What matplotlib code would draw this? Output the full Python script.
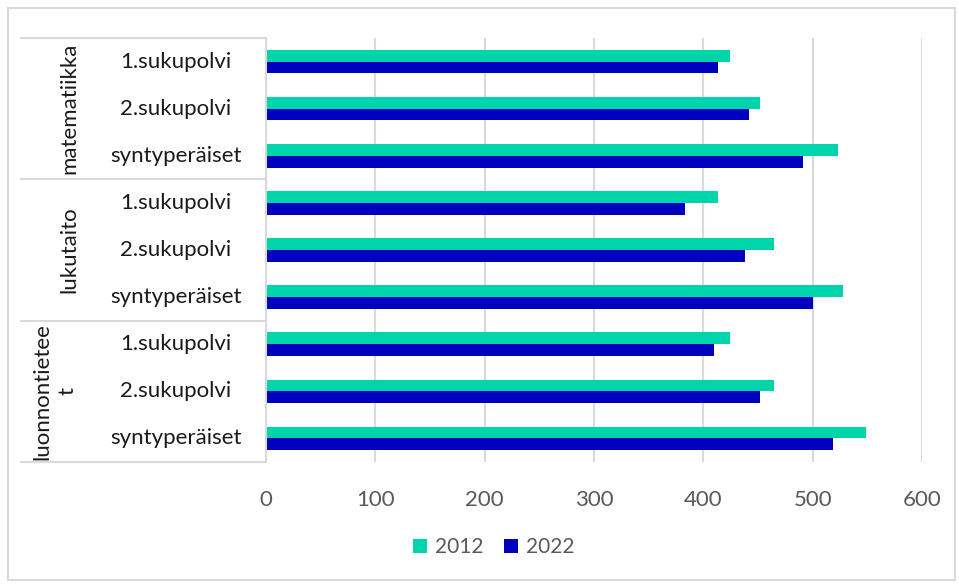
import matplotlib
matplotlib.use('Agg')
import matplotlib.pyplot as plt
from matplotlib.lines import Line2D
from matplotlib.patches import Rectangle
import numpy as np

# --- data ---
groups = ['matematiikka', 'lukutaito', 'luonnontietee\nt']
subgroups = ['1.sukupolvi', '2.sukupolvi', 'syntyperäiset']
series = ['2012', '2022']
v2012 = [424, 452, 523, 413, 465, 528, 424, 465, 549]
v2022 = [413, 442, 491, 383, 438, 500, 410, 452, 519]
xticks = [0, 100, 200, 300, 400, 500, 600]

# --- style ---
C2012 = '#00D4AA'
C2022 = '#0000BF'
GRID = '#D9D9D9'
TXT = '#595959'
FONT = ['Lato', 'DejaVu Sans']
plt.rcParams['font.family'] = FONT

W, H = 959, 584
fig = plt.figure(figsize=(W / 100, H / 100), dpi=100)

def fx(px):
    return px / W

def fy(py):
    return 1 - py / H

# outer chart border
fig.patches.append(Rectangle((fx(8), fy(580)), fx(947), 572 / H, transform=fig.transFigure,
                             fill=False, edgecolor=GRID, linewidth=1.5))

left, right, top, bottom = 266, 922, 38, 462
ax = fig.add_axes([fx(left), fy(bottom), fx(right - left), (bottom - top) / H])

n = len(v2012)
pos = np.arange(n)
h = 0.25
ax.barh(pos - h / 2, v2012, height=h, color=C2012, label=series[0], zorder=3)
ax.barh(pos + h / 2, v2022, height=h, color=C2022, label=series[1], zorder=3)

ax.set_xlim(0, 600)
ax.set_ylim(n - 0.5, -0.5)
ax.set_xticks(xticks)
ax.set_xticklabels([str(t) for t in xticks], fontsize=16, color=TXT)
ax.tick_params(axis='x', length=0, pad=20)
ax.set_yticks([])
ax.grid(axis='x', color=GRID, linewidth=1.5, zorder=0)
for s in ax.spines.values():
    s.set_visible(False)

# category table on the left
for py in [38, 179, 321, 462]:
    fig.add_artist(Line2D([fx(21), fx(266)], [fy(py), fy(py)], color=GRID, linewidth=1.5))
fig.add_artist(Line2D([fx(266), fx(266)], [fy(38), fy(462)], color=GRID, linewidth=1.5))

for i in range(n):
    yy = ax.transData.transform((0, i))[1]
    fig.text(fx(176), yy / fig.dpi / fig.get_figheight(), subgroups[i % 3],
             ha='center', va='center', fontsize=16, color='#1A1A1A')

for g, name in enumerate(groups):
    ymid = (38 + 141.3 * g + 38 + 141.3 * (g + 1)) / 2
    xg = 69 if '\n' not in name else 55
    fig.text(fx(xg), fy(ymid), name, rotation=90, ha='center', va='center',
             multialignment='center', fontsize=16, linespacing=1.35, color='#1A1A1A')

fig.legend(loc='center', bbox_to_anchor=(fx(494), fy(547)), ncol=2, frameon=False,
           fontsize=15, handlelength=0.65, handleheight=0.65, handletextpad=0.4,
           columnspacing=1.0, labelcolor=TXT)

fig.savefig('out.png', dpi=100, facecolor='white')
